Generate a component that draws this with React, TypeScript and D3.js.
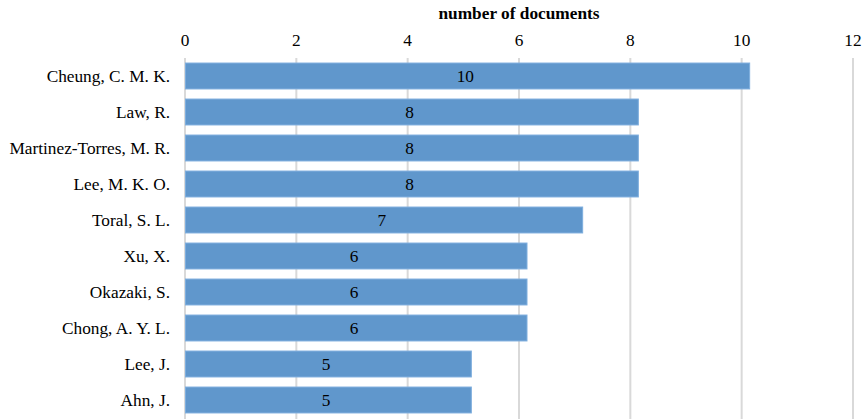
import React from "react";
import * as d3 from "d3";

const authors = [
  "Cheung, C. M. K.",
  "Law, R.",
  "Martinez-Torres, M. R.",
  "Lee, M. K. O.",
  "Toral, S. L.",
  "Xu, X.",
  "Okazaki, S.",
  "Chong, A. Y. L.",
  "Lee, J.",
  "Ahn, J.",
];
const documents = [10, 8, 8, 8, 7, 6, 6, 6, 5, 5];
const xTicks = [0, 2, 4, 6, 8, 10, 12];

const W = 866;
const H = 419;
const left = 185;
const right = 853;
const BAR_EXTRA = 8;
const FS = 17.3;

export default function App() {
  const x = d3.scaleLinear().domain([0, 12]).range([left, right]);
  const y = d3
    .scaleBand<string>()
    .domain(authors)
    .range([58, 58 + 36 * authors.length])
    .paddingInner(0.28)
    .paddingOuter(0.14);
  const font = "'Liberation Serif', 'Times New Roman', serif";
  return (
    <svg
      width={W}
      height={H}
      style={{ position: "absolute", left: 0, top: 0, background: "#fff" }}
      fontFamily={font}
    >
      <text x={(left + right) / 2} y={19} textAnchor="middle" fontSize={FS} fontWeight="bold" fill="#000">
        number of documents
      </text>
      {xTicks.map((t) => (
        <g key={t}>
          <line x1={x(t)} x2={x(t)} y1={58} y2={H} stroke="#d9d9d9" strokeWidth={2} />
          <text x={x(t)} y={45.5} textAnchor="middle" fontSize={FS} fill="#000">
            {t}
          </text>
        </g>
      ))}
      {authors.map((a, i) => {
        const by = y(a)!;
        const bh = y.bandwidth();
        const x1 = x(documents[i]) + BAR_EXTRA;
        return (
          <g key={a}>
            <rect
              x={x(0) + 0.5}
              y={by}
              width={x1 - x(0) - 0.5}
              height={bh}
              fill="#6097cc"
              stroke="#7eaede"
              strokeWidth={1}
            />
            <text x={(x(0) + x(documents[i])) / 2 + 2} y={by + bh / 2 + 6} textAnchor="middle" fontSize={FS} fill="#000">
              {documents[i]}
            </text>
            <text x={170} y={by + bh / 2 + 6} textAnchor="end" fontSize={FS} fill="#000">
              {a}
            </text>
          </g>
        );
      })}
    </svg>
  );
}
